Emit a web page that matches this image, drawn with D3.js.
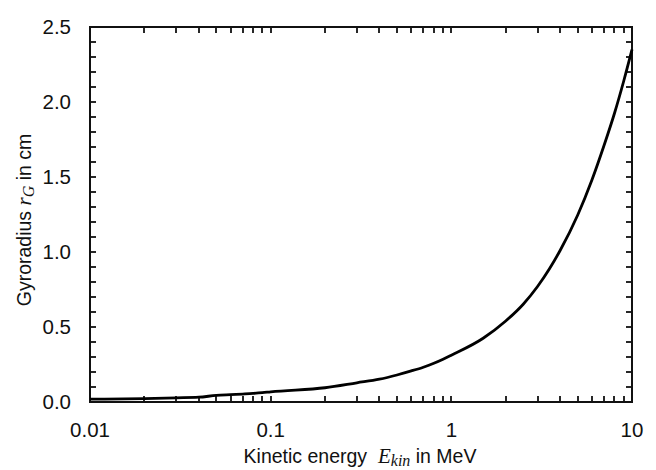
<!DOCTYPE html>
<html>
<head>
<meta charset="utf-8">
<script src="https://cdn.jsdelivr.net/npm/d3@7"></script>
<style>
  html, body { margin: 0; padding: 0; background: #fff; }
  svg { display: block; }
</style>
</head>
<body>
<svg id="chart" width="656" height="470"></svg>
<script>
// Kinetic energy in MeV
const energy = [0.01, 0.02, 0.03, 0.04, 0.05, 0.06, 0.07, 0.08, 0.09,
                0.1, 0.2, 0.3, 0.4, 0.5, 0.6, 0.7, 0.8, 0.9,
                1, 1.5, 2, 2.5, 3, 3.5, 4, 5, 6, 7, 8, 9, 10];
// Gyroradius in cm
const radius = [0.019, 0.023, 0.028, 0.032, 0.044, 0.049, 0.053, 0.057, 0.062,
                0.068, 0.095, 0.128, 0.152, 0.180, 0.207, 0.232, 0.258, 0.285,
                0.312, 0.425, 0.540, 0.652, 0.770, 0.890, 1.010, 1.245, 1.480, 1.710, 1.925, 2.140, 2.350];

const xTickValues = [0.01, 0.1, 1, 10];
const xTickLabels = ["0.01", "0.1", "1", "10"];
const yTickValues = [0, 0.5, 1.0, 1.5, 2.0, 2.5];
const yTickLabels = ["0.0", "0.5", "1.0", "1.5", "2.0", "2.5"];

const svg = d3.select("#chart");
const m = { left: 90, right: 632, top: 27, bottom: 402 };

const x = d3.scaleLog().domain([0.01, 10]).range([m.left, m.right]);
const y = d3.scaleLinear().domain([0, 2.5]).range([m.bottom, m.top]);

const ink = "#111";
const tickLen = 6;

// tick positions: 1..9 per decade on x, every 0.1 on y
const xTicksAll = [];
[0.01, 0.1, 1].forEach(d => { for (let k = 1; k <= 9; k++) xTicksAll.push(d * k); });
xTicksAll.push(10);
const yTicksAll = d3.range(0, 26).map(i => i / 10);

const g = svg.append("g");

// inward ticks on all four sides
const tickG = g.append("g").attr("class", "ticks");
xTicksAll.forEach(v => {
  const px = Math.round(x(v));
  tickG.append("rect").attr("x", px - 0.9).attr("y", m.bottom - tickLen)
    .attr("width", 1.8).attr("height", tickLen).attr("fill", ink);
  tickG.append("rect").attr("x", px - 0.9).attr("y", m.top)
    .attr("width", 1.8).attr("height", tickLen).attr("fill", ink);
});
yTicksAll.forEach(v => {
  const py = Math.round(y(v));
  tickG.append("rect").attr("x", m.left).attr("y", py - 0.9)
    .attr("width", tickLen).attr("height", 1.8).attr("fill", ink);
  tickG.append("rect").attr("x", m.right - tickLen).attr("y", py - 0.9)
    .attr("width", tickLen).attr("height", 1.8).attr("fill", ink);
});

// frame
g.append("rect")
  .attr("x", m.left).attr("y", m.top)
  .attr("width", m.right - m.left).attr("height", m.bottom - m.top)
  .attr("fill", "none").attr("stroke", ink).attr("stroke-width", 2);

// tick labels
const labelFont = "'Liberation Sans', Arial, sans-serif";
const mathFont = "'Liberation Serif', 'Times New Roman', serif";

g.selectAll("text.xlab").data(xTickValues).join("text")
  .attr("class", "xlab")
  .attr("x", d => x(d)).attr("y", 437)
  .attr("text-anchor", "middle")
  .attr("font-family", labelFont).attr("font-size", 20.5).attr("fill", "#111")
  .text((d, i) => xTickLabels[i]);

g.selectAll("text.ylab").data(yTickValues).join("text")
  .attr("class", "ylab")
  .attr("x", 71).attr("y", d => y(d) + 7)
  .attr("text-anchor", "end")
  .attr("font-family", labelFont).attr("font-size", 20.5).attr("fill", "#111")
  .text((d, i) => yTickLabels[i]);

// axis titles
const xt = g.append("text")
  .attr("x", 360).attr("y", 463)
  .attr("text-anchor", "middle")
  .attr("font-family", labelFont).attr("font-size", 19.5).attr("fill", "#111");
xt.append("tspan").text("Kinetic energy\u00a0\u00a0");
xt.append("tspan").attr("font-family", mathFont)
  .attr("font-style", "italic").attr("font-size", 21).text("E");
xt.append("tspan").attr("font-family", mathFont)
  .attr("font-style", "italic").attr("font-size", 16).attr("dy", 3).text("kin");
xt.append("tspan").attr("dy", -3).text(" in MeV");

const yt = g.append("text")
  .attr("transform", "translate(31,220) rotate(-90)")
  .attr("text-anchor", "middle")
  .attr("font-family", labelFont).attr("font-size", 19.5).attr("fill", "#111");
yt.append("tspan").text("Gyroradius\u00a0");
yt.append("tspan").attr("font-family", mathFont)
  .attr("font-style", "italic").attr("font-size", 21).text("r");
yt.append("tspan").attr("font-family", mathFont)
  .attr("font-style", "italic").attr("font-size", 16).attr("dy", 3).text("G");
yt.append("tspan").attr("dy", -3).text(" in cm");

// gyroradius curve
const pts = energy.map((e, i) => [e, radius[i]]);
g.append("path")
  .datum(pts)
  .attr("fill", "none")
  .attr("stroke", "#000")
  .attr("stroke-width", 2.8)
  .attr("stroke-linejoin", "round")
  .attr("d", d3.line().curve(d3.curveMonotoneX).x(d => x(d[0])).y(d => y(d[1])));
</script>
</body>
</html>
